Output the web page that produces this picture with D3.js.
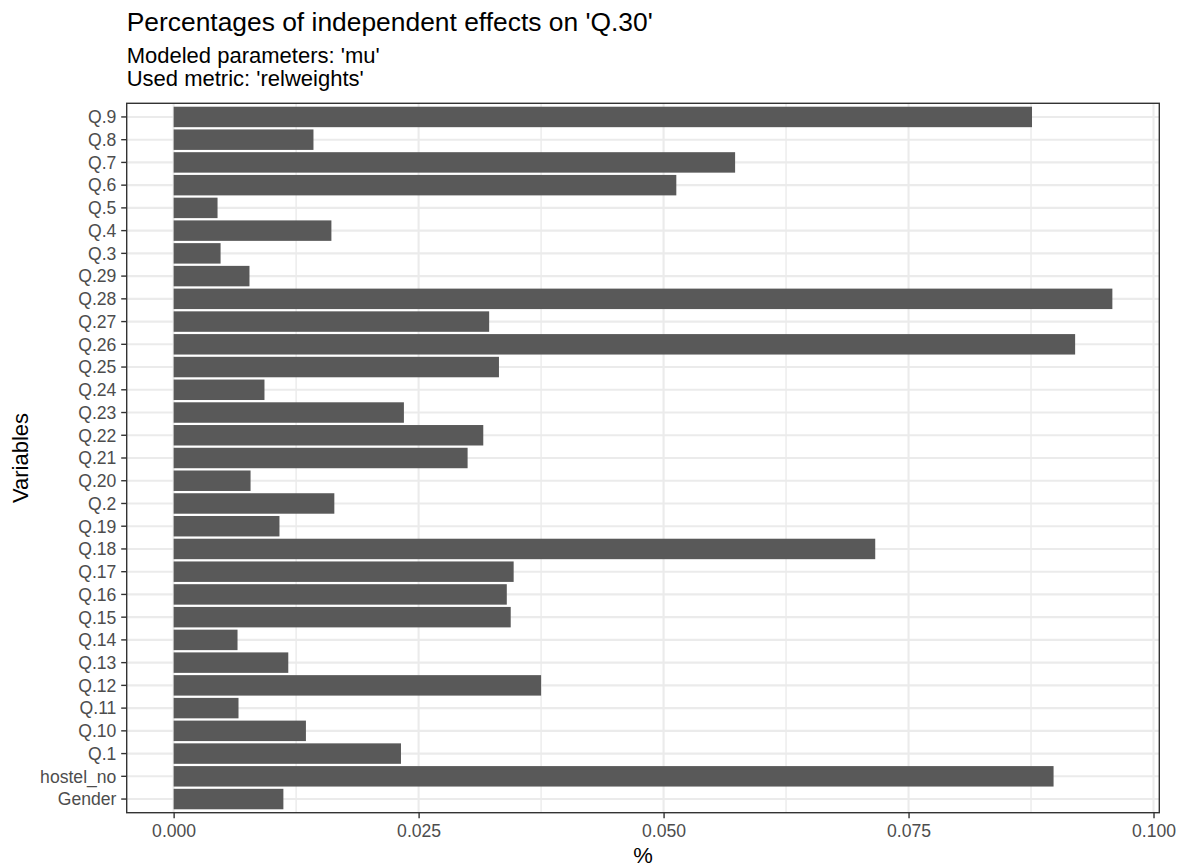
<!DOCTYPE html>
<html>
<head>
<meta charset="utf-8">
<script src="https://cdn.jsdelivr.net/npm/d3@7"></script>
<style>
  html, body { margin: 0; padding: 0; background: #ffffff; }
  svg { display: block; font-family: "Liberation Sans", Arial, Helvetica, sans-serif; }
</style>
</head>
<body>
<svg id="chart" width="1177" height="866"></svg>
<script>
// Categories, top to bottom as drawn
const categories = ["Q.9","Q.8","Q.7","Q.6","Q.5","Q.4","Q.3","Q.29","Q.28","Q.27","Q.26","Q.25","Q.24","Q.23","Q.22","Q.21","Q.20","Q.2","Q.19","Q.18","Q.17","Q.16","Q.15","Q.14","Q.13","Q.12","Q.11","Q.10","Q.1","hostel_no","Gender"];
const values = [0.0876,0.01427,0.0573,0.0513,0.00448,0.0161,0.00479,0.00774,0.0958,0.0322,0.0920,0.0332,0.00927,0.0235,0.0316,0.0300,0.00785,0.0164,0.0108,0.0716,0.0347,0.0340,0.0344,0.00652,0.0117,0.0375,0.00662,0.0135,0.0232,0.0898,0.0112];
const xMajorTicks = [0, 0.025, 0.05, 0.075, 0.1];
const xMinorTicks = [0.0125, 0.0375, 0.0625, 0.0875];
const xTickLabels = ["0.000", "0.025", "0.050", "0.075", "0.100"];
const titleText = "Percentages of independent effects on 'Q.30'";
const subtitleLines = ["Modeled parameters: 'mu'", "Used metric: 'relweights'"];
const xTitle = "%";
const yTitle = "Variables";

const data = categories.map((c, i) => ({ cat: c, val: values[i] }));

const svg = d3.select("#chart");
const panel = { left: 126.7, right: 1159.3, top: 103.3, bottom: 812.7 };

const vmax = d3.max(values);
const x = d3.scaleLinear()
  .domain([0 - 0.05 * vmax, vmax * 1.05])
  .range([panel.left, panel.right]);

const y = d3.scaleBand()
  .domain(categories)
  .range([panel.top, panel.bottom])
  .paddingInner(0.1)
  .paddingOuter(0.15);

// Panel background
svg.append("rect")
  .attr("x", panel.left).attr("y", panel.top)
  .attr("width", panel.right - panel.left)
  .attr("height", panel.bottom - panel.top)
  .attr("fill", "#ffffff");

const grid = svg.append("g");
// minor vertical grid
grid.selectAll("line.minor").data(xMinorTicks).enter().append("line")
  .attr("x1", d => x(d)).attr("x2", d => x(d))
  .attr("y1", panel.top).attr("y2", panel.bottom)
  .attr("stroke", "#EBEBEB").attr("stroke-width", 1.4);
// major vertical grid
grid.selectAll("line.majorx").data(xMajorTicks).enter().append("line")
  .attr("x1", d => x(d)).attr("x2", d => x(d))
  .attr("y1", panel.top).attr("y2", panel.bottom)
  .attr("stroke", "#EBEBEB").attr("stroke-width", 2.1);
// major horizontal grid
grid.selectAll("line.majory").data(categories).enter().append("line")
  .attr("x1", panel.left).attr("x2", panel.right)
  .attr("y1", d => y(d) + y.bandwidth() / 2).attr("y2", d => y(d) + y.bandwidth() / 2)
  .attr("stroke", "#EBEBEB").attr("stroke-width", 2.1);

// Bars
svg.append("g").selectAll("rect").data(data).enter().append("rect")
  .attr("x", x(0))
  .attr("y", d => y(d.cat))
  .attr("width", d => x(d.val) - x(0))
  .attr("height", y.bandwidth())
  .attr("fill", "#595959");

// Panel border
svg.append("rect")
  .attr("x", panel.left).attr("y", panel.top)
  .attr("width", panel.right - panel.left)
  .attr("height", panel.bottom - panel.top)
  .attr("fill", "none")
  .attr("stroke", "#333333").attr("stroke-width", 1.4);

// X axis
const xAxis = d3.axisBottom(x)
  .tickValues(xMajorTicks)
  .tickFormat((d, i) => xTickLabels[i])
  .tickSize(5.5)
  .tickPadding(4.5);
const gx = svg.append("g")
  .attr("transform", `translate(0,${panel.bottom})`)
  .call(xAxis);
gx.select(".domain").remove();
gx.selectAll(".tick line").attr("stroke", "#333333").attr("stroke-width", 1.4);
gx.selectAll(".tick text")
  .attr("fill", "#4D4D4D")
  .attr("font-size", "17.6px")
  .attr("font-family", "Liberation Sans, Arial, sans-serif")
  .attr("dy", null)
  .attr("y", 24.8);

// Y axis
const yAxis = d3.axisLeft(y).tickSize(5.5).tickPadding(4.8);
const gy = svg.append("g")
  .attr("transform", `translate(${panel.left},0)`)
  .call(yAxis);
gy.select(".domain").remove();
gy.selectAll(".tick line").attr("stroke", "#333333").attr("stroke-width", 1.4);
gy.selectAll(".tick text")
  .attr("fill", "#4D4D4D")
  .attr("font-size", "17.6px")
  .attr("font-family", "Liberation Sans, Arial, sans-serif")
  .attr("dy", "0.36em");

// Titles
svg.append("text")
  .attr("x", panel.left).attr("y", 30.7)
  .attr("font-size", "26.4px").attr("fill", "#000000")
  .text(titleText);

svg.append("g").selectAll("text").data(subtitleLines).enter().append("text")
  .attr("x", panel.left)
  .attr("y", (d, i) => 63.3 + i * 22.7)
  .attr("font-size", "22px").attr("fill", "#000000")
  .text(d => d);

// Axis titles
svg.append("text")
  .attr("x", (panel.left + panel.right) / 2)
  .attr("y", 862.5)
  .attr("text-anchor", "middle")
  .attr("font-size", "22px").attr("fill", "#000000")
  .text(xTitle);

svg.append("text")
  .attr("transform", `translate(27.5,${(panel.top + panel.bottom) / 2}) rotate(-90)`)
  .attr("text-anchor", "middle")
  .attr("font-size", "22px").attr("fill", "#000000")
  .text(yTitle);
</script>
</body>
</html>
